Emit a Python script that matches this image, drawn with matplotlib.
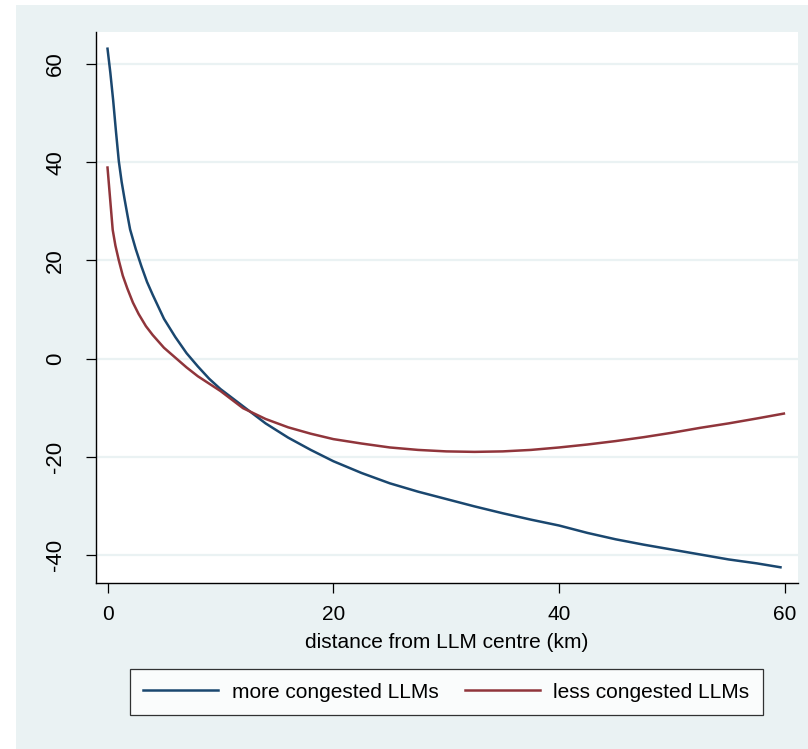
"""Distance-gradient plot: more vs less congested LLMs (Stata-style look)."""

from __future__ import annotations

import matplotlib

matplotlib.use("Agg")
import matplotlib.pyplot as plt
from matplotlib.patches import Rectangle


# values
dist_more = [0, 0.25, 0.5, 0.75, 1, 1.25, 1.5, 1.75, 2, 2.5, 3, 3.5, 4, 5, 6,
             7, 8, 9, 10, 12, 14, 16, 18, 20, 22.5, 25, 27.5, 30, 32.5, 35,
             37.5, 40, 42.5, 45, 47.5, 50, 52.5, 55, 57.5, 59.6]
more_congested = [63.1, 58.2, 52.6, 46.2, 40.2, 36.0, 32.6, 29.4, 26.3, 22.3,
                  18.8, 15.6, 13.0, 8.1, 4.4, 1.1, -1.6, -4.1, -6.2, -9.7,
                  -13.2, -16.1, -18.6, -20.9, -23.3, -25.4, -27.1, -28.6,
                  -30.1, -31.5, -32.8, -34.0, -35.5, -36.8, -37.9, -38.9,
                  -39.9, -40.9, -41.7, -42.5]

dist_less = [0, 0.3, 0.46, 0.7, 1, 1.35, 1.75, 2.25, 2.75, 3.4, 4, 5, 6, 7, 8,
             9, 10, 12, 14, 16, 18, 20, 22.5, 25, 27.5, 30, 32.5, 35, 37.5,
             40, 42.5, 45, 47.5, 50, 52.5, 55, 57.5, 59.9]
less_congested = [38.9, 30.6, 26.2, 23.0, 20.0, 16.9, 14.3, 11.4, 9.1, 6.6,
                  4.8, 2.2, 0.2, -1.8, -3.6, -5.1, -6.6, -10.1, -12.3, -14.0,
                  -15.3, -16.4, -17.3, -18.1, -18.6, -18.9, -19.0, -18.9,
                  -18.6, -18.1, -17.5, -16.8, -16.0, -15.1, -14.1, -13.2,
                  -12.2, -11.2]

x_ticks = [0, 20, 40, 60]
y_ticks = [-40, -20, 0, 20, 40, 60]

BLUE = "#1a476f"
RED = "#90353b"
BG = "#eaf2f3"

plt.rcParams["font.family"] = ["Liberation Sans", "DejaVu Sans"]
plt.rcParams["axes.unicode_minus"] = False

W, H = 808, 749
fig = plt.figure(figsize=(W / 100, H / 100), dpi=100)
fig.patch.set_facecolor("white")
fig.add_artist(Rectangle((16 / W, 0), 1 - 16 / W, 1 - 5 / H,
                         transform=fig.transFigure, facecolor=BG,
                         edgecolor="none", zorder=0))

ax = fig.add_axes([96 / W, 1 - 583 / H, (798 - 96) / W, (583 - 32) / H])
ax.set_facecolor("white")
ax.set_zorder(1)

ax.plot(dist_more, more_congested, color=BLUE, lw=1.8,
        label="more congested LLMs", zorder=3)
ax.plot(dist_less, less_congested, color=RED, lw=1.8,
        label="less congested LLMs", zorder=3)

ax.set_xlim(-1.02, 61.15)
ax.set_ylim(-45.7, 66.5)
ax.set_xticks(x_ticks)
ax.set_yticks(y_ticks)
ax.yaxis.grid(True, color=BG, lw=1.6, zorder=1)
ax.xaxis.grid(False)
ax.set_axisbelow(True)

for s in ("top", "right"):
    ax.spines[s].set_visible(False)
for s in ("left", "bottom"):
    ax.spines[s].set_linewidth(1.0)
    ax.spines[s].set_color("black")

ax.tick_params(axis="x", length=7, width=0.9, pad=9, labelsize=15)
ax.tick_params(axis="y", length=7, width=0.9, pad=22, labelsize=16)
for lbl in ax.get_yticklabels():
    lbl.set_rotation(90)
    lbl.set_va("center")
    lbl.set_ha("center")

ax.set_xlabel("distance from LLM centre (km)", fontsize=15, labelpad=6)

leg = ax.legend(loc="center", bbox_to_anchor=(446.5 / W, 1 - 692 / H),
                bbox_transform=fig.transFigure, ncol=2, fontsize=15,
                frameon=True, fancybox=False, handlelength=3.6,
                handletextpad=0.63, columnspacing=1.3, borderpad=0.65)
leg.get_frame().set_edgecolor("black")
leg.get_frame().set_linewidth(0.9)
leg.get_frame().set_facecolor("white")

fig.savefig("out.png", dpi=100)
plt.close(fig)
